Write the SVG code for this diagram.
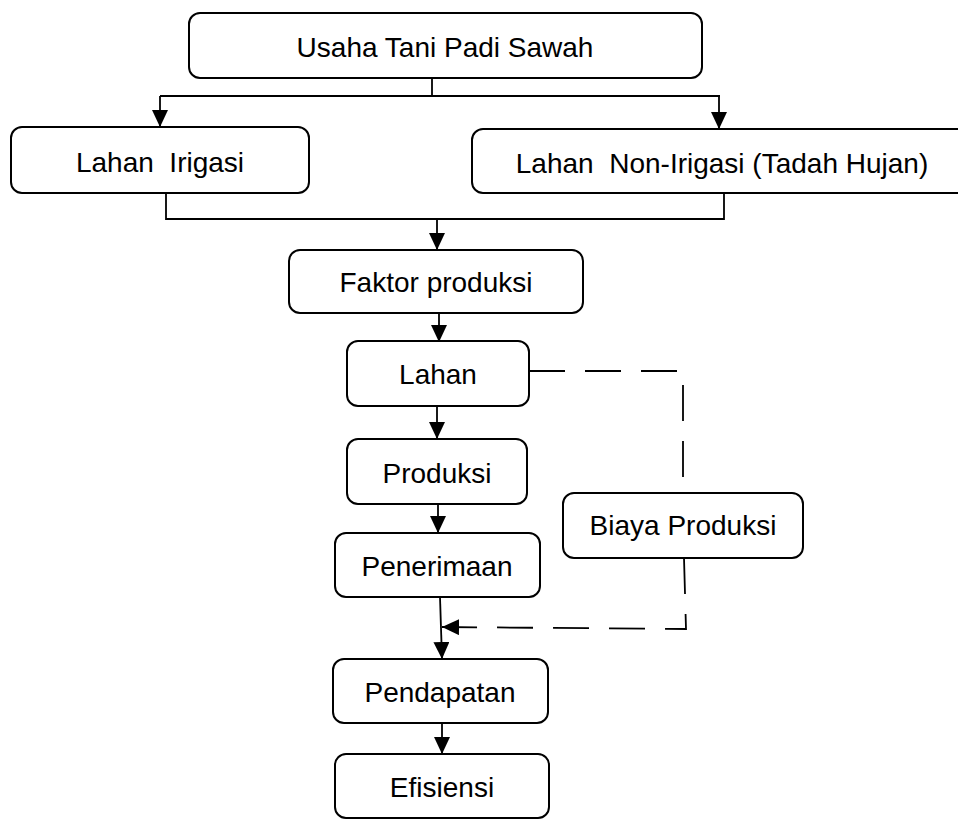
<svg xmlns="http://www.w3.org/2000/svg" width="958" height="819" viewBox="0 0 958 819">
<style>
.box{fill:#fff;stroke:#000;stroke-width:2}
.t{font-family:"Liberation Sans",Arial,sans-serif;font-size:28px;fill:#000;text-anchor:middle;white-space:pre}
.c{fill:none;stroke:#000;stroke-width:1.8}
.d{fill:none;stroke:#000;stroke-width:1.8;stroke-dasharray:36 20}
</style>
<defs>
<marker id="ah" viewBox="0 0 17 16" refX="17" refY="8" markerWidth="17" markerHeight="16" markerUnits="userSpaceOnUse" orient="auto">
<path d="M0,0 L17,8 L0,16 z" fill="#000"/>
</marker>
</defs>
<rect width="958" height="819" fill="#fff"/>
<g id="connectors">
<path class="c" d="M432,78 V96"/>
<path class="c" d="M160,96 H720"/>
<path class="c" d="M160,96 V127" marker-end="url(#ah)"/>
<path class="c" d="M719,96 V129" marker-end="url(#ah)"/>
<path class="c" d="M166,193 V219 H724 V193"/>
<path class="c" d="M437,219 V250" marker-end="url(#ah)"/>
<path class="c" d="M439,313 V342" marker-end="url(#ah)"/>
<path class="c" d="M437,406 V439" marker-end="url(#ah)"/>
<path class="c" d="M438,504 V533" marker-end="url(#ah)"/>
<path class="c" d="M440,597 L442,659" marker-end="url(#ah)"/>
<path class="c" d="M442,723 V754" marker-end="url(#ah)"/>
<path class="d" d="M529,371 H683 V493"/>
<path class="d" d="M684,558 L686,629 L442,627" marker-end="url(#ah)"/>
</g>
<g id="n-usaha"><rect class="box" x="189" y="13" width="513" height="65" rx="11"/><text class="t" x="445" y="57">Usaha Tani Padi Sawah</text></g>
<g id="n-irigasi"><rect class="box" x="11" y="127" width="298" height="66" rx="11"/><text class="t" x="160" y="172">Lahan  Irigasi</text></g>
<g id="n-nonirigasi"><rect class="box" x="472" y="129" width="500" height="64" rx="11"/><text class="t" x="722" y="173">Lahan  Non-Irigasi (Tadah Hujan)</text></g>
<g id="n-faktor"><rect class="box" x="289" y="250" width="294" height="63" rx="11"/><text class="t" x="436" y="292">Faktor produksi</text></g>
<g id="n-lahan"><rect class="box" x="347" y="341" width="182" height="65" rx="11"/><text class="t" x="438" y="384">Lahan</text></g>
<g id="n-produksi"><rect class="box" x="347" y="439" width="180" height="65" rx="11"/><text class="t" x="437" y="483">Produksi</text></g>
<g id="n-penerimaan"><rect class="box" x="335" y="533" width="205" height="64" rx="11"/><text class="t" x="437" y="576">Penerimaan</text></g>
<g id="n-biaya"><rect class="box" x="563" y="493" width="240" height="65" rx="11"/><text class="t" x="683" y="535">Biaya Produksi</text></g>
<g id="n-pendapatan"><rect class="box" x="333" y="659" width="215" height="64" rx="11"/><text class="t" x="440" y="702">Pendapatan</text></g>
<g id="n-efisiensi"><rect class="box" x="335" y="754" width="214" height="64" rx="11"/><text class="t" x="442" y="797">Efisiensi</text></g>
</svg>
